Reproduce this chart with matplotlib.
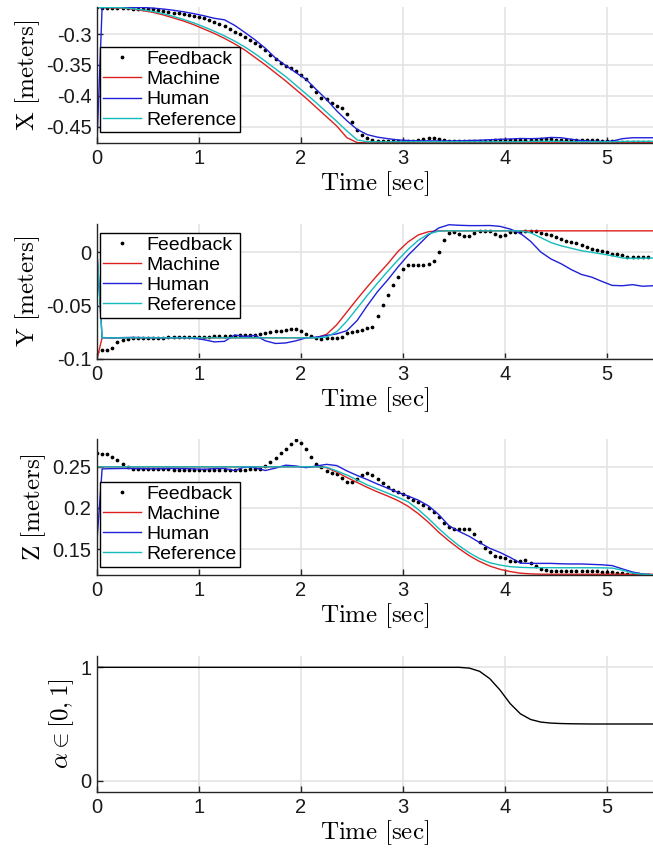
import matplotlib

matplotlib.use("Agg")
import matplotlib.pyplot as plt
import numpy as np

plt.rcParams["axes.unicode_minus"] = False
plt.rcParams["mathtext.fontset"] = "cm"
plt.rcParams["font.family"] = ["Liberation Sans", "DejaVu Sans"]

# sample times: lines (0, 0.05, 0.15, ..., 5.45) and feedback dots (every 0.05 s)
t_line = np.round(np.concatenate(([0.0], np.arange(0.05, 5.46, 0.1))), 2)
t_fb = np.round(np.arange(0.0, 5.401, 0.05), 2)

# ---- X [meters] ----
x_feedback = [
    -0.2570, -0.2572, -0.2575, -0.2578, -0.2580, -0.2582, -0.2585, -0.2588, -0.2590, -0.2592,
    -0.2595, -0.2602, -0.2612, -0.2625, -0.2640, -0.2655, -0.2665, -0.2675, -0.2690, -0.2705,
    -0.2722, -0.2745, -0.2770, -0.2800, -0.2835, -0.2875, -0.2920, -0.2965, -0.3005, -0.3045,
    -0.3090, -0.3140, -0.3200, -0.3265, -0.3340, -0.3400, -0.3465, -0.3510, -0.3555, -0.3605,
    -0.3660, -0.3735, -0.3840, -0.3935, -0.4040, -0.4060, -0.4120, -0.4160, -0.4200, -0.4300,
    -0.4430, -0.4550, -0.4640, -0.4690, -0.4712, -0.4725, -0.4732, -0.4735, -0.4736, -0.4736,
    -0.4735, -0.4733, -0.4725, -0.4710, -0.4695, -0.4685, -0.4688, -0.4700, -0.4715, -0.4728,
    -0.4732, -0.4733, -0.4732, -0.4730, -0.4728, -0.4727, -0.4726, -0.4725, -0.4723, -0.4720,
    -0.4718, -0.4716, -0.4715, -0.4714, -0.4714, -0.4713, -0.4710, -0.4705, -0.4703, -0.4705,
    -0.4710, -0.4714, -0.4715, -0.4716, -0.4716, -0.4716, -0.4717, -0.4718, -0.4720, -0.4725,
    -0.4732, -0.4738, -0.4742, -0.4745, -0.4745, -0.4745, -0.4745, -0.4745, -0.4745,
]
x_machine = [
    -0.2570, -0.2570, -0.2575, -0.2580, -0.2595, -0.2620, -0.2650, -0.2690, -0.2740, -0.2790,
    -0.2850, -0.2920, -0.2990, -0.3070, -0.3160, -0.3260, -0.3380, -0.3500, -0.3630, -0.3760,
    -0.3900, -0.4040, -0.4190, -0.4340, -0.4490, -0.4680, -0.4758, -0.4762, -0.4762, -0.4762,
    -0.4762, -0.4762, -0.4762, -0.4762, -0.4762, -0.4762, -0.4762, -0.4762, -0.4762, -0.4762,
    -0.4762, -0.4762, -0.4762, -0.4762, -0.4762, -0.4762, -0.4762, -0.4762, -0.4762, -0.4762,
    -0.4762, -0.4762, -0.4762, -0.4762, -0.4762, -0.4762,
]
x_human = [
    -0.4760, -0.2570, -0.2565, -0.2565, -0.2567, -0.2570, -0.2580, -0.2595, -0.2615, -0.2640,
    -0.2670, -0.2705, -0.2745, -0.2770, -0.2860, -0.2975, -0.3095, -0.3230, -0.3390, -0.3510,
    -0.3625, -0.3735, -0.3900, -0.4060, -0.4245, -0.4405, -0.4545, -0.4630, -0.4670, -0.4695,
    -0.4715, -0.4725, -0.4730, -0.4730, -0.4732, -0.4732, -0.4730, -0.4725, -0.4720, -0.4712,
    -0.4705, -0.4700, -0.4692, -0.4695, -0.4690, -0.4675, -0.4680, -0.4705, -0.4725, -0.4735,
    -0.4740, -0.4735, -0.4695, -0.4680, -0.4680, -0.4680,
]
x_reference = [
    -0.2570, -0.2570, -0.2570, -0.2575, -0.2590, -0.2610, -0.2635, -0.2670, -0.2715, -0.2765,
    -0.2820, -0.2885, -0.2955, -0.3030, -0.3115, -0.3210, -0.3320, -0.3440, -0.3565, -0.3690,
    -0.3830, -0.3970, -0.4115, -0.4265, -0.4415, -0.4570, -0.4715, -0.4745, -0.4745, -0.4745,
    -0.4745, -0.4745, -0.4745, -0.4745, -0.4745, -0.4745, -0.4745, -0.4745, -0.4745, -0.4745,
    -0.4745, -0.4745, -0.4745, -0.4740, -0.4738, -0.4737, -0.4740, -0.4745, -0.4745, -0.4745,
    -0.4745, -0.4745, -0.4740, -0.4738, -0.4738, -0.4738,
]

# ---- Y [meters] ----
y_feedback = [
    -0.0932, -0.0918, -0.0912, -0.0895, -0.0845, -0.0818, -0.0810, -0.0806, -0.0805, -0.0804,
    -0.0803, -0.0802, -0.0800, -0.0800, -0.0799, -0.0797, -0.0796, -0.0795, -0.0793, -0.0792,
    -0.0791, -0.0790, -0.0790, -0.0788, -0.0786, -0.0785, -0.0784, -0.0783, -0.0780, -0.0778,
    -0.0776, -0.0772, -0.0768, -0.0760, -0.0750, -0.0742, -0.0736, -0.0727, -0.0718, -0.0722,
    -0.0738, -0.0762, -0.0787, -0.0802, -0.0810, -0.0806, -0.0804, -0.0803, -0.0798, -0.0760,
    -0.0749, -0.0738, -0.0727, -0.0713, -0.0697, -0.0600, -0.0498, -0.0405, -0.0310, -0.0232,
    -0.0160, -0.0125, -0.0123, -0.0123, -0.0123, -0.0110, -0.0080, 0.0000, 0.0110, 0.0182,
    0.0185, 0.0170, 0.0150, 0.0148, 0.0175, 0.0196, 0.0200, 0.0200, 0.0172, 0.0150,
    0.0162, 0.0185, 0.0187, 0.0191, 0.0192, 0.0194, 0.0193, 0.0181, 0.0172, 0.0162,
    0.0137, 0.0120, 0.0101, 0.0094, 0.0084, 0.0064, 0.0045, 0.0027, 0.0022, 0.0013,
    0.0001, -0.0014, -0.0022, -0.0031, -0.0044, -0.0046, -0.0046, -0.0046, -0.0046,
]
y_machine = [
    -0.1000, -0.0802, -0.0802, -0.0802, -0.0802, -0.0802, -0.0802, -0.0802, -0.0802, -0.0802,
    -0.0802, -0.0802, -0.0802, -0.0802, -0.0802, -0.0802, -0.0802, -0.0802, -0.0802, -0.0802,
    -0.0802, -0.0802, -0.0800, -0.0770, -0.0680, -0.0560, -0.0440, -0.0325, -0.0215, -0.0110,
    0.0005, 0.0095, 0.0160, 0.0190, 0.0198, 0.0198, 0.0198, 0.0198, 0.0198, 0.0198,
    0.0198, 0.0198, 0.0198, 0.0198, 0.0198, 0.0198, 0.0198, 0.0198, 0.0198, 0.0198,
    0.0198, 0.0198, 0.0198, 0.0198, 0.0198, 0.0198,
]
y_human = [
    0.0000, -0.0800, -0.0802, -0.0800, -0.0798, -0.0800, -0.0800, -0.0802, -0.0800, -0.0800,
    -0.0805, -0.0820, -0.0840, -0.0835, -0.0775, -0.0790, -0.0780, -0.0830, -0.0855, -0.0850,
    -0.0830, -0.0802, -0.0796, -0.0780, -0.0765, -0.0735, -0.0640, -0.0500, -0.0370, -0.0260,
    -0.0140, -0.0030, 0.0065, 0.0160, 0.0225, 0.0255, 0.0250, 0.0247, 0.0247, 0.0248,
    0.0240, 0.0215, 0.0175, 0.0100, 0.0000, -0.0065, -0.0110, -0.0165, -0.0210, -0.0235,
    -0.0275, -0.0312, -0.0315, -0.0305, -0.0320, -0.0315,
]
y_reference = [
    0.0000, -0.0802, -0.0802, -0.0802, -0.0802, -0.0802, -0.0802, -0.0802, -0.0802, -0.0802,
    -0.0802, -0.0802, -0.0802, -0.0802, -0.0802, -0.0802, -0.0802, -0.0802, -0.0802, -0.0802,
    -0.0802, -0.0802, -0.0802, -0.0795, -0.0745, -0.0645, -0.0525, -0.0405, -0.0290, -0.0180,
    -0.0075, 0.0025, 0.0110, 0.0170, 0.0195, 0.0198, 0.0198, 0.0198, 0.0198, 0.0198,
    0.0198, 0.0198, 0.0198, 0.0180, 0.0135, 0.0088, 0.0058, 0.0035, 0.0012, -0.0003,
    -0.0018, -0.0035, -0.0055, -0.0060, -0.0058, -0.0056,
]

# ---- Z [meters] ----
z_feedback = [
    0.2670, 0.2650, 0.2650, 0.2620, 0.2580, 0.2535, 0.2495, 0.2475, 0.2472, 0.2472,
    0.2472, 0.2470, 0.2470, 0.2470, 0.2468, 0.2466, 0.2464, 0.2462, 0.2460, 0.2460,
    0.2458, 0.2458, 0.2458, 0.2460, 0.2462, 0.2465, 0.2465, 0.2462, 0.2462, 0.2465,
    0.2468, 0.2470, 0.2475, 0.2505, 0.2555, 0.2610, 0.2665, 0.2720, 0.2780, 0.2820,
    0.2795, 0.2720, 0.2615, 0.2540, 0.2500, 0.2455, 0.2430, 0.2410, 0.2370, 0.2320,
    0.2315, 0.2355, 0.2395, 0.2425, 0.2405, 0.2350, 0.2300, 0.2260, 0.2220, 0.2190,
    0.2165, 0.2135, 0.2100, 0.2070, 0.2040, 0.2000, 0.1950, 0.1885, 0.1820, 0.1765,
    0.1742, 0.1740, 0.1742, 0.1740, 0.1685, 0.1585, 0.1510, 0.1460, 0.1412, 0.1400,
    0.1390, 0.1357, 0.1360, 0.1355, 0.1370, 0.1337, 0.1290, 0.1262, 0.1250, 0.1240,
    0.1238, 0.1236, 0.1235, 0.1234, 0.1233, 0.1232, 0.1231, 0.1230, 0.1229, 0.1228,
    0.1227, 0.1222, 0.1216, 0.1210, 0.1204, 0.1200, 0.1196, 0.1192, 0.1188,
]
z_machine = [
    0.2500, 0.2500, 0.2500, 0.2500, 0.2500, 0.2500, 0.2500, 0.2500, 0.2500, 0.2500,
    0.2500, 0.2500, 0.2500, 0.2500, 0.2500, 0.2500, 0.2500, 0.2500, 0.2500, 0.2500,
    0.2500, 0.2500, 0.2500, 0.2490, 0.2435, 0.2370, 0.2310, 0.2250, 0.2195, 0.2145,
    0.2090, 0.2020, 0.1930, 0.1825, 0.1705, 0.1600, 0.1505, 0.1420, 0.1350, 0.1295,
    0.1255, 0.1228, 0.1208, 0.1200, 0.1196, 0.1195, 0.1195, 0.1195, 0.1195, 0.1195,
    0.1195, 0.1195, 0.1195, 0.1195, 0.1195, 0.1195,
]
z_human = [
    0.1600, 0.2475, 0.2478, 0.2480, 0.2480, 0.2478, 0.2475, 0.2478, 0.2480, 0.2478,
    0.2475, 0.2470, 0.2478, 0.2480, 0.2455, 0.2500, 0.2490, 0.2455, 0.2485, 0.2520,
    0.2510, 0.2490, 0.2510, 0.2530, 0.2515, 0.2450, 0.2395, 0.2345, 0.2290, 0.2240,
    0.2190, 0.2145, 0.2095, 0.2025, 0.1920, 0.1785, 0.1715, 0.1655, 0.1580, 0.1510,
    0.1460, 0.1400, 0.1330, 0.1327, 0.1327, 0.1327, 0.1322, 0.1320, 0.1320, 0.1315,
    0.1310, 0.1300, 0.1260, 0.1222, 0.1198, 0.1188,
]
z_reference = [
    0.2500, 0.2500, 0.2500, 0.2500, 0.2500, 0.2500, 0.2500, 0.2500, 0.2500, 0.2500,
    0.2500, 0.2500, 0.2500, 0.2500, 0.2500, 0.2500, 0.2500, 0.2500, 0.2500, 0.2500,
    0.2500, 0.2500, 0.2500, 0.2495, 0.2450, 0.2400, 0.2340, 0.2280, 0.2230, 0.2180,
    0.2130, 0.2075, 0.1980, 0.1870, 0.1750, 0.1640, 0.1540, 0.1455, 0.1385, 0.1335,
    0.1307, 0.1287, 0.1279, 0.1275, 0.1275, 0.1275, 0.1274, 0.1274, 0.1274, 0.1274,
    0.1273, 0.1270, 0.1245, 0.1210, 0.1195, 0.1188,
]

# ---- alpha ----
alpha = [
    1.000, 1.000, 1.000, 1.000, 1.000, 1.000, 1.000, 1.000, 1.000, 1.000,
    1.000, 1.000, 1.000, 1.000, 1.000, 1.000, 1.000, 1.000, 1.000, 1.000,
    1.000, 1.000, 1.000, 1.000, 1.000, 1.000, 1.000, 1.000, 1.000, 1.000,
    1.000, 1.000, 1.000, 1.000, 1.000, 1.000, 1.000, 0.993, 0.965, 0.900,
    0.800, 0.680, 0.590, 0.540, 0.517, 0.508, 0.504, 0.502, 0.501, 0.500,
    0.500, 0.500, 0.500, 0.500, 0.500, 0.500,
]

series_labels = ["Feedback", "Machine", "Human", "Reference"]
series_colors = ["black", "#dd2020", "#2020d8", "#14bcbc"]

FIG_W, FIG_H = 653, 848
LEFT_PX = 97
fig = plt.figure(figsize=(FIG_W / 100, FIG_H / 100), dpi=100)


def add_axes(top_px, bottom_px):
    return fig.add_axes([
        LEFT_PX / FIG_W,
        1 - bottom_px / FIG_H,
        (FIG_W - LEFT_PX) / FIG_W,
        (bottom_px - top_px) / FIG_H,
    ])


def style(ax, ylim, yticks, yticklabels, ylabel):
    ax.set_xlim(0, 5.45)
    ax.set_ylim(*ylim)
    ax.set_xticks(range(6))
    ax.set_yticks(yticks)
    ax.set_yticklabels(yticklabels)
    for s in ("top", "right"):
        ax.spines[s].set_visible(False)
    for s in ("left", "bottom"):
        ax.spines[s].set_color("#262626")
        ax.spines[s].set_linewidth(1.0)
    ax.tick_params(direction="in", length=4, width=1.0, colors="#262626",
                   labelcolor="#1a1a1a", labelsize=14.5, pad=4)
    ax.grid(True, color="#e4e4e4", lw=1.2)
    ax.set_axisbelow(True)
    ax.set_xlabel(r"$\mathrm{Time\ [sec]}$", fontsize=18, labelpad=1.5)
    ax.set_ylabel(ylabel, fontsize=18, labelpad=3)


def draw_xyz(ax, fb, mach, hum, ref, legend_top):
    ax.plot(t_fb, fb, ls="none", marker="o", ms=1.7, color=series_colors[0],
            label=series_labels[0])
    ax.plot(t_line, mach, lw=1.0, color=series_colors[1], label=series_labels[1])
    ax.plot(t_line, hum, lw=1.0, color=series_colors[2], label=series_labels[2])
    ax.plot(t_line, ref, lw=1.0, color=series_colors[3], label=series_labels[3])
    leg = ax.legend(loc="upper left", bbox_to_anchor=(0.005, legend_top),
                    frameon=True, fancybox=False, edgecolor="black", framealpha=1,
                    fontsize=14, handlelength=1.95, handletextpad=0.25,
                    labelspacing=0.13, borderpad=0.18, borderaxespad=0, numpoints=1)
    leg.get_frame().set_linewidth(1.0)


ax1 = add_axes(7, 143)
draw_xyz(ax1, x_feedback, x_machine, x_human, x_reference, 0.706)
style(ax1, (-0.4765, -0.2562), [-0.45, -0.4, -0.35, -0.3],
      ["-0.45", "-0.4", "-0.35", "-0.3"], r"$\mathrm{X\ [meters]}$")

ax2 = add_axes(224, 359)
draw_xyz(ax2, y_feedback, y_machine, y_human, y_reference, 0.936)
style(ax2, (-0.1, 0.0262), [-0.1, -0.05, 0], ["-0.1", "-0.05", "0"],
      r"$\mathrm{Y\ [meters]}$")

ax3 = add_axes(439, 575)
draw_xyz(ax3, z_feedback, z_machine, z_human, z_reference, 0.686)
style(ax3, (0.1186, 0.2838), [0.15, 0.2, 0.25], ["0.15", "0.2", "0.25"],
      r"$\mathrm{Z\ [meters]}$")

ax4 = add_axes(656, 792)
ax4.plot(t_line, alpha, lw=1.0, color="black")
style(ax4, (-0.1, 1.1), [0, 1], ["0", "1"], r"$\alpha \in [0, 1]$")

fig.savefig("out.png", dpi=100)
